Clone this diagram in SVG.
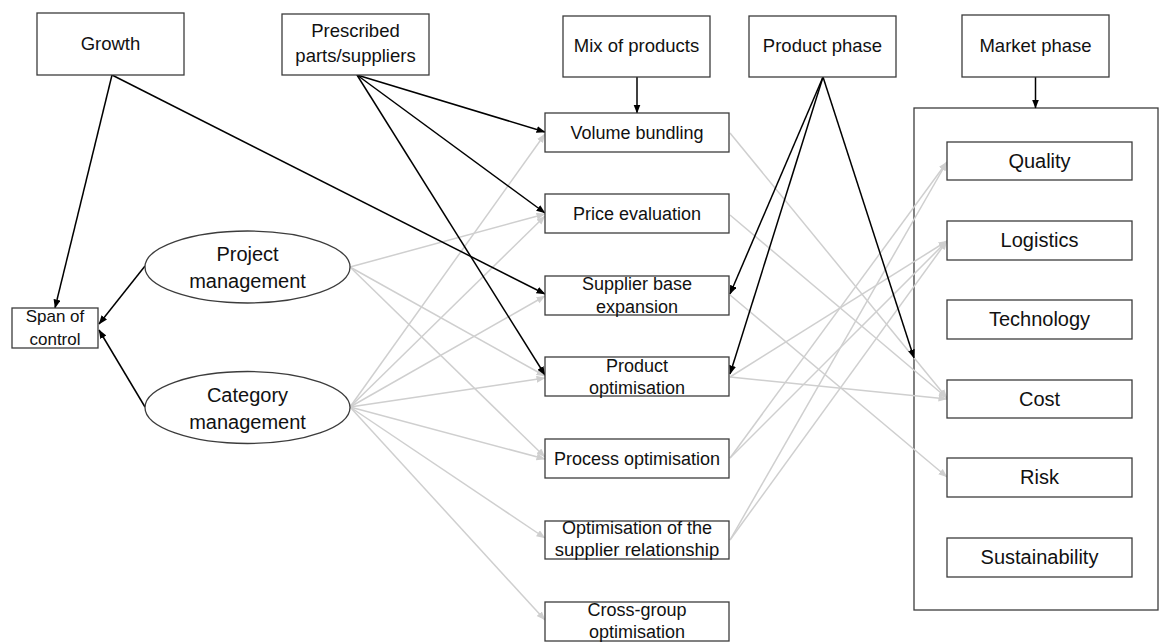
<svg xmlns="http://www.w3.org/2000/svg" width="1162" height="643" viewBox="0 0 1162 643">
<style>
.box{fill:#fff;stroke:#3c3c3c;stroke-width:1.3}
.frame{fill:none;stroke:#3c3c3c;stroke-width:1.3}
.t{font-family:"Liberation Sans",Arial,sans-serif;fill:#111;text-anchor:middle}
.f18{font-size:18px}
.top{font-size:18.5px}
.f20{font-size:20px}
.f17{font-size:17px}
.blk{stroke:#000;stroke-width:1.5;fill:none;marker-end:url(#ab)}
.gry{stroke:#cfcfcf;stroke-width:1.5;fill:none;marker-end:url(#ag)}
</style>
<defs>
<marker id="ab" markerWidth="9" markerHeight="8" refX="8.5" refY="3.5" orient="auto" markerUnits="userSpaceOnUse"><path d="M0,0 L9,3.5 L0,7 z" fill="#000"/></marker>
<marker id="ag" markerWidth="9" markerHeight="8" refX="8.5" refY="3.5" orient="auto" markerUnits="userSpaceOnUse"><path d="M0,0 L9,3.5 L0,7 z" fill="#cfcfcf"/></marker>
</defs>
<rect width="1162" height="643" fill="#fff"/>
<g id="marketbox"><rect class="frame" x="914" y="108" width="244" height="502"/></g>
<g id="connectors">
<line class="gry" x1="350" y1="267" x2="545" y2="214"/>
<line class="gry" x1="350" y1="267" x2="545" y2="376"/>
<line class="gry" x1="350" y1="267" x2="545" y2="457"/>
<line class="gry" x1="350" y1="407" x2="545" y2="134"/>
<line class="gry" x1="350" y1="407" x2="545" y2="216"/>
<line class="gry" x1="350" y1="407" x2="545" y2="296"/>
<line class="gry" x1="350" y1="407" x2="545" y2="378"/>
<line class="gry" x1="350" y1="407" x2="545" y2="459"/>
<line class="gry" x1="350" y1="407" x2="545" y2="538"/>
<line class="gry" x1="350" y1="407" x2="545" y2="620"/>
<line class="gry" x1="730" y1="133" x2="947" y2="398"/>
<line class="gry" x1="730" y1="215" x2="947" y2="398"/>
<line class="gry" x1="730" y1="295" x2="947" y2="477"/>
<line class="gry" x1="730" y1="377" x2="947" y2="399"/>
<line class="gry" x1="730" y1="377" x2="947" y2="241"/>
<line class="gry" x1="730" y1="458" x2="947" y2="162"/>
<line class="gry" x1="730" y1="458" x2="947" y2="241"/>
<line class="gry" x1="730" y1="540" x2="947" y2="162"/>
<line class="gry" x1="730" y1="540" x2="947" y2="241"/>
<line class="blk" x1="112" y1="75" x2="55" y2="308"/>
<line class="blk" x1="112" y1="75" x2="545" y2="294"/>
<line class="blk" x1="145" y1="266" x2="99" y2="324"/>
<line class="blk" x1="145" y1="407" x2="99" y2="330"/>
<line class="blk" x1="357" y1="75" x2="545" y2="132"/>
<line class="blk" x1="357" y1="75" x2="545" y2="213"/>
<line class="blk" x1="357" y1="75" x2="545" y2="375"/>
<line class="blk" x1="637" y1="77" x2="637" y2="113"/>
<line class="blk" x1="823" y1="77" x2="730" y2="294"/>
<line class="blk" x1="823" y1="77" x2="730" y2="374"/>
<line class="blk" x1="823" y1="77" x2="914" y2="358"/>
<line class="blk" x1="1035.5" y1="77" x2="1035.5" y2="108"/>
</g>
<g id="growth"><rect class="box" x="37" y="13" width="147" height="62"/><text class="t top" x="110.5" y="50">Growth</text></g>
<g id="prescribed"><rect class="box" x="282" y="14" width="147" height="61"/><text class="t top" x="355.5" y="37">Prescribed</text><text class="t top" x="355.5" y="62">parts/suppliers</text></g>
<g id="mix"><rect class="box" x="563" y="16" width="147" height="61"/><text class="t top" x="636.5" y="52">Mix of products</text></g>
<g id="productphase"><rect class="box" x="749" y="16" width="147" height="61"/><text class="t top" x="822.5" y="52">Product phase</text></g>
<g id="marketphase"><rect class="box" x="962" y="15" width="147" height="62"/><text class="t top" x="1035.5" y="52">Market phase</text></g>
<g id="span"><rect class="box" x="12" y="308" width="86" height="40"/><text class="t f17" x="55" y="322">Span of</text><text class="t f17" x="55" y="345">control</text></g>
<g id="project"><ellipse class="box" cx="247.5" cy="267" rx="102.5" ry="36"/><text class="t f20" x="247.5" y="261">Project</text><text class="t f20" x="247.5" y="288">management</text></g>
<g id="category"><ellipse class="box" cx="247.5" cy="407.5" rx="102.5" ry="36"/><text class="t f20" x="247.5" y="402">Category</text><text class="t f20" x="247.5" y="429">management</text></g>
<g id="volume"><rect class="box" x="545" y="113" width="184" height="39"/><text class="t f18" x="637" y="139">Volume bundling</text></g>
<g id="price"><rect class="box" x="545" y="194" width="184" height="39"/><text class="t f18" x="637" y="220">Price evaluation</text></g>
<g id="supplierbase"><rect class="box" x="545" y="276" width="184" height="39"/><text class="t f18" x="637" y="290">Supplier base</text><text class="t f18" x="637" y="313">expansion</text></g>
<g id="productopt"><rect class="box" x="545" y="357" width="184" height="39"/><text class="t f18" x="637" y="372">Product</text><text class="t f18" x="637" y="394">optimisation</text></g>
<g id="processopt"><rect class="box" x="545" y="439" width="184" height="39"/><text class="t f18" x="637" y="465">Process optimisation</text></g>
<g id="supplierrel"><rect class="box" x="545" y="521" width="184" height="38"/><text class="t f18" x="637" y="534">Optimisation of the</text><text class="t" x="637" y="556" font-size="18.5px">supplier relationship</text></g>
<g id="crossgroup"><rect class="box" x="545" y="602" width="184" height="39"/><text class="t f18" x="637" y="616">Cross-group</text><text class="t f18" x="637" y="638">optimisation</text></g>
<g id="quality"><rect class="box" x="947" y="142" width="185" height="38"/><text class="t f20" x="1039.5" y="168">Quality</text></g>
<g id="logistics"><rect class="box" x="947" y="221" width="185" height="39"/><text class="t f20" x="1039.5" y="247">Logistics</text></g>
<g id="technology"><rect class="box" x="947" y="300" width="185" height="39"/><text class="t f20" x="1039.5" y="326">Technology</text></g>
<g id="cost"><rect class="box" x="947" y="380" width="185" height="38"/><text class="t f20" x="1039.5" y="406">Cost</text></g>
<g id="risk"><rect class="box" x="947" y="458" width="185" height="39"/><text class="t f20" x="1039.5" y="484">Risk</text></g>
<g id="sustainability"><rect class="box" x="947" y="538" width="185" height="39"/><text class="t f20" x="1039.5" y="564">Sustainability</text></g>
</svg>
